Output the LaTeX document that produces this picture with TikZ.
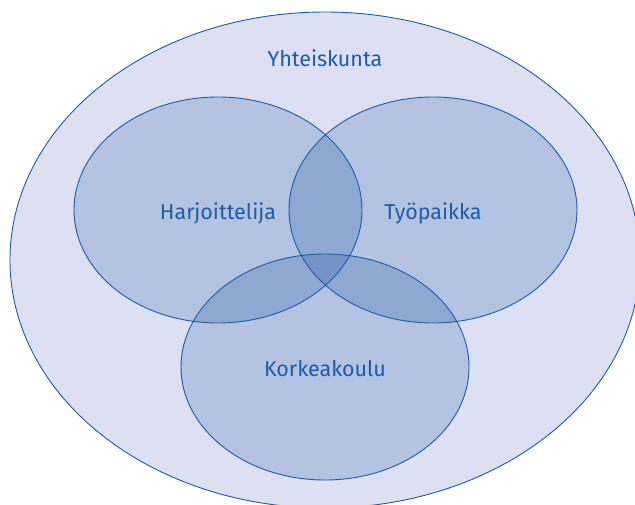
\documentclass[tikz,border=0pt]{standalone}
\usepackage{fontspec}
\setmainfont{Fira Sans}
\definecolor{outerfill}{RGB}{221,224,242}
\definecolor{onefill}{RGB}{179,195,225}
\definecolor{twofill}{RGB}{143,168,210}
\definecolor{threefill}{RGB}{116,146,195}
\definecolor{edge}{RGB}{30,92,170}
\definecolor{txt}{RGB}{28,92,168}
\begin{document}
\begin{tikzpicture}[x=1pt,y=-1pt,
  lbl/.style={text=txt,font=\fontsize{21.5}{24}\selectfont},
  ring/.style={draw=edge,line width=0.9pt}]
\useasboundingbox (0,0) rectangle (635,504);
\clip (0,0) rectangle (635,504);
\def\A{(218,210) ellipse [x radius=144,y radius=113]}
\def\B{(433,210) ellipse [x radius=144,y radius=113]}
\def\C{(325,367) ellipse [x radius=144,y radius=113]}
\fill[white] (0,0) rectangle (635,504);
\fill[outerfill] (325,260) ellipse [x radius=315,y radius=248];
\fill[onefill] \A; \fill[onefill] \B; \fill[onefill] \C;
\begin{scope}\clip \A; \fill[twofill] \B; \fill[twofill] \C; \end{scope}
\begin{scope}\clip \B; \fill[twofill] \C; \end{scope}
\begin{scope}\clip \A; \clip \B; \fill[threefill] \C; \end{scope}
\draw[ring] (325,260) ellipse [x radius=315,y radius=248];
\draw[ring] \A; \draw[ring] \B; \draw[ring] \C;
\node[lbl] (soc) at (325,58) {Yhteiskunta};
\node[lbl] (har) at (218,213) {Harjoittelija};
\node[lbl] (tyo) at (433,213) {Työpaikka};
\node[lbl] (kor) at (325,369) {Korkeakoulu};
\end{tikzpicture}
\end{document}
